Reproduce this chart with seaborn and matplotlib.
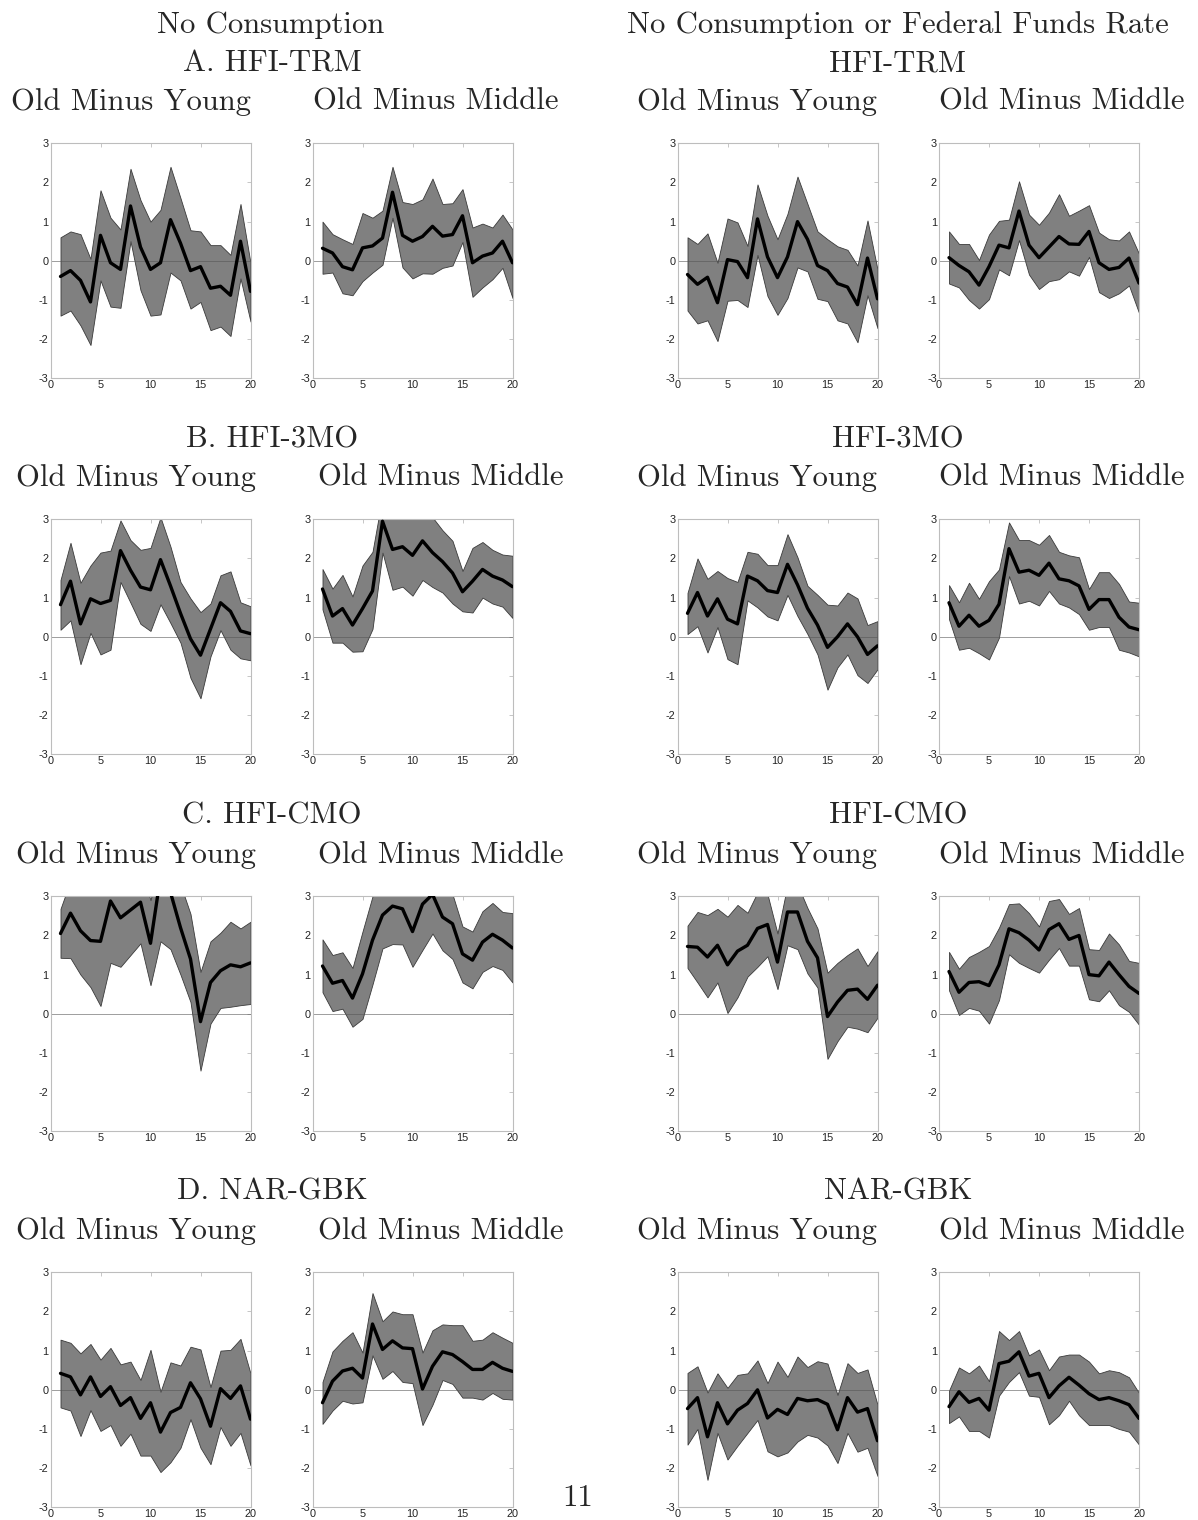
import numpy as np
import pandas as pd
import matplotlib
matplotlib.use("Agg")
import matplotlib.pyplot as plt
import seaborn as sns

# ---------------- data ----------------
horizon = list(range(1, 21))

# Row A: HFI-TRM, No Consumption
a_nc_young_mean = [-0.4, -0.25, -0.5, -1.05, 0.65, -0.05, -0.22, 1.4, 0.35, -0.22, -0.05, 1.05, 0.45, -0.25, -0.15, -0.7, -0.65, -0.88, 0.5, -0.78]
a_nc_young_hi = [0.6, 0.75, 0.68, 0.05, 1.8, 1.1, 0.8, 2.35, 1.55, 1.0, 1.3, 2.4, 1.6, 0.78, 0.75, 0.4, 0.4, 0.15, 1.45, -0.05]
a_nc_young_lo = [-1.4, -1.27, -1.65, -2.15, -0.5, -1.17, -1.2, 0.5, -0.75, -1.4, -1.37, -0.3, -0.5, -1.22, -1.05, -1.77, -1.68, -1.92, -0.45, -1.55]
a_nc_middle_mean = [0.32, 0.2, -0.15, -0.23, 0.33, 0.38, 0.58, 1.75, 0.65, 0.5, 0.62, 0.88, 0.63, 0.67, 1.15, -0.05, 0.12, 0.2, 0.5, -0.05]
a_nc_middle_hi = [1.0, 0.68, 0.55, 0.43, 1.22, 1.1, 1.28, 2.4, 1.5, 1.45, 1.57, 2.1, 1.45, 1.47, 1.83, 0.85, 0.95, 0.85, 1.18, 0.8]
a_nc_middle_lo = [-0.33, -0.3, -0.83, -0.88, -0.52, -0.3, -0.1, 1.1, -0.17, -0.45, -0.32, -0.33, -0.18, -0.12, 0.48, -0.92, -0.68, -0.47, -0.18, -0.95]
a_ff_young_mean = [-0.35, -0.6, -0.42, -1.07, 0.03, -0.02, -0.43, 1.07, 0.1, -0.43, 0.1, 1.0, 0.55, -0.12, -0.25, -0.58, -0.67, -1.12, 0.07, -0.97]
a_ff_young_hi = [0.6, 0.43, 0.7, -0.05, 1.08, 0.98, 0.38, 1.95, 1.15, 0.55, 1.2, 2.15, 1.45, 0.75, 0.55, 0.37, 0.28, -0.12, 1.03, -0.22]
a_ff_young_lo = [-1.27, -1.6, -1.52, -2.05, -1.02, -1.0, -1.18, 0.15, -0.9, -1.38, -0.95, -0.17, -0.27, -0.97, -1.03, -1.52, -1.6, -2.08, -0.88, -1.72]
a_ff_middle_mean = [0.08, -0.12, -0.28, -0.62, -0.15, 0.4, 0.33, 1.27, 0.4, 0.08, 0.35, 0.62, 0.43, 0.42, 0.75, -0.05, -0.22, -0.17, 0.07, -0.57]
a_ff_middle_hi = [0.75, 0.43, 0.43, 0.02, 0.67, 1.02, 1.05, 2.03, 1.18, 0.92, 1.23, 1.7, 1.15, 1.28, 1.42, 0.72, 0.55, 0.52, 0.75, 0.18]
a_ff_middle_lo = [-0.58, -0.68, -1.0, -1.22, -0.98, -0.22, -0.37, 0.53, -0.35, -0.72, -0.52, -0.47, -0.27, -0.38, 0.1, -0.8, -0.95, -0.83, -0.63, -1.33]

# Row B: HFI-3MO
b_nc_young_mean = [0.82, 1.42, 0.33, 0.97, 0.85, 0.93, 2.2, 1.7, 1.27, 1.2, 1.97, 1.3, 0.6, -0.05, -0.47, 0.2, 0.87, 0.65, 0.15, 0.08]
b_nc_young_hi = [1.45, 2.4, 1.38, 1.82, 2.15, 2.2, 2.97, 2.47, 2.22, 2.27, 3.05, 2.3, 1.4, 0.98, 0.63, 0.85, 1.57, 1.67, 0.88, 0.78]
b_nc_young_lo = [0.18, 0.42, -0.7, 0.1, -0.45, -0.33, 1.4, 0.87, 0.33, 0.15, 0.83, 0.35, -0.15, -1.05, -1.57, -0.5, 0.17, -0.33, -0.55, -0.6]
b_nc_middle_mean = [1.22, 0.53, 0.72, 0.3, 0.72, 1.17, 2.95, 2.23, 2.3, 2.08, 2.45, 2.15, 1.92, 1.63, 1.15, 1.42, 1.72, 1.55, 1.45, 1.28]
b_nc_middle_hi = [1.73, 1.23, 1.58, 1.03, 1.82, 2.17, 3.6, 3.4, 3.4, 3.3, 3.5, 3.05, 2.72, 2.45, 1.68, 2.27, 2.42, 2.22, 2.1, 2.07]
b_nc_middle_lo = [0.7, -0.15, -0.15, -0.38, -0.37, 0.2, 2.15, 1.2, 1.28, 1.05, 1.45, 1.27, 1.13, 0.85, 0.65, 0.62, 1.0, 0.85, 0.77, 0.48]
b_ff_young_mean = [0.6, 1.13, 0.53, 0.97, 0.45, 0.33, 1.55, 1.43, 1.18, 1.13, 1.85, 1.33, 0.73, 0.3, -0.27, 0.0, 0.33, 0.0, -0.45, -0.23]
b_ff_young_hi = [1.12, 2.0, 1.48, 1.68, 1.5, 1.4, 2.17, 2.12, 1.83, 1.83, 2.62, 2.03, 1.3, 1.07, 0.82, 0.8, 1.13, 0.98, 0.3, 0.4]
b_ff_young_lo = [0.07, 0.27, -0.4, 0.25, -0.57, -0.7, 0.93, 0.75, 0.52, 0.42, 1.07, 0.53, 0.07, -0.45, -1.35, -0.78, -0.45, -0.98, -1.18, -0.83]
b_ff_middle_mean = [0.87, 0.27, 0.55, 0.27, 0.42, 0.83, 2.25, 1.65, 1.7, 1.57, 1.88, 1.48, 1.43, 1.3, 0.7, 0.95, 0.95, 0.5, 0.25, 0.18]
b_ff_middle_hi = [1.32, 0.88, 1.38, 0.97, 1.42, 1.72, 2.92, 2.47, 2.47, 2.35, 2.6, 2.17, 2.08, 2.03, 1.22, 1.65, 1.65, 1.35, 0.9, 0.87]
b_ff_middle_lo = [0.45, -0.33, -0.28, -0.42, -0.58, -0.02, 1.55, 0.85, 0.92, 0.8, 1.17, 0.85, 0.75, 0.58, 0.18, 0.25, 0.25, -0.33, -0.4, -0.5]

# Row C: HFI-CMO
c_nc_young_mean = [2.05, 2.57, 2.12, 1.87, 1.85, 2.88, 2.45, 2.65, 2.85, 1.8, 3.5, 3.1, 2.2, 1.4, -0.2, 0.8, 1.1, 1.25, 1.2, 1.3]
c_nc_young_hi = [2.68, 3.4, 3.3, 3.5, 3.4, 3.8, 3.6, 3.7, 3.8, 2.9, 3.9, 3.8, 3.3, 2.55, 1.07, 1.85, 2.07, 2.35, 2.18, 2.35]
c_nc_young_lo = [1.43, 1.42, 1.0, 0.68, 0.2, 1.3, 1.2, 1.5, 1.8, 0.73, 1.85, 1.65, 1.0, 0.3, -1.45, -0.25, 0.15, 0.18, 0.22, 0.25]
c_nc_middle_mean = [1.22, 0.78, 0.85, 0.4, 1.02, 1.88, 2.52, 2.75, 2.68, 2.1, 2.8, 3.05, 2.47, 2.3, 1.53, 1.37, 1.83, 2.03, 1.88, 1.68]
c_nc_middle_hi = [1.9, 1.5, 1.57, 1.17, 2.1, 3.0, 3.6, 3.7, 3.6, 3.2, 3.7, 3.8, 3.6, 3.05, 2.23, 2.1, 2.62, 2.83, 2.6, 2.57]
c_nc_middle_lo = [0.55, 0.07, 0.13, -0.33, -0.13, 0.75, 1.67, 1.78, 1.77, 1.2, 1.63, 2.05, 1.62, 1.4, 0.8, 0.65, 1.07, 1.22, 1.12, 0.8]
c_ff_young_mean = [1.72, 1.7, 1.45, 1.75, 1.25, 1.6, 1.75, 2.18, 2.28, 1.32, 2.6, 2.6, 1.85, 1.43, -0.07, 0.3, 0.6, 0.63, 0.37, 0.73]
c_ff_young_hi = [2.25, 2.6, 2.52, 2.68, 2.48, 2.78, 2.58, 3.1, 3.05, 2.05, 3.3, 3.3, 2.7, 2.18, 1.05, 1.3, 1.5, 1.67, 1.22, 1.6]
c_ff_young_lo = [1.17, 0.8, 0.42, 0.8, 0.02, 0.42, 0.95, 1.2, 1.47, 0.63, 1.75, 1.65, 1.03, 0.67, -1.15, -0.7, -0.33, -0.38, -0.47, -0.1]
c_ff_middle_mean = [1.08, 0.55, 0.8, 0.82, 0.72, 1.25, 2.17, 2.07, 1.88, 1.63, 2.15, 2.3, 1.9, 2.0, 1.0, 0.97, 1.32, 1.0, 0.7, 0.52]
c_ff_middle_hi = [1.58, 1.15, 1.45, 1.58, 1.73, 2.2, 2.8, 2.82, 2.57, 2.23, 2.88, 2.93, 2.55, 2.7, 1.65, 1.63, 2.05, 1.77, 1.35, 1.3]
c_ff_middle_lo = [0.6, -0.03, 0.15, 0.08, -0.25, 0.35, 1.52, 1.3, 1.17, 1.05, 1.38, 1.68, 1.23, 1.23, 0.37, 0.32, 0.6, 0.22, 0.05, -0.28]

# Row D: NAR-GBK
d_nc_young_mean = [0.42, 0.33, -0.13, 0.33, -0.17, 0.08, -0.4, -0.2, -0.73, -0.33, -1.08, -0.58, -0.45, 0.18, -0.23, -0.93, 0.03, -0.22, 0.1, -0.75]
d_nc_young_hi = [1.28, 1.2, 0.93, 1.17, 0.77, 1.07, 0.65, 0.72, 0.25, 1.02, -0.05, 0.7, 0.62, 1.1, 1.03, 0.07, 1.0, 1.02, 1.3, 0.42]
d_nc_young_lo = [-0.45, -0.53, -1.18, -0.52, -1.05, -0.9, -1.43, -1.12, -1.68, -1.68, -2.1, -1.85, -1.48, -0.75, -1.48, -1.9, -0.95, -1.43, -1.1, -1.93]
d_nc_middle_mean = [-0.33, 0.22, 0.48, 0.55, 0.3, 1.68, 1.03, 1.25, 1.07, 1.05, 0.02, 0.6, 0.97, 0.9, 0.72, 0.52, 0.52, 0.7, 0.55, 0.47]
d_nc_middle_hi = [0.2, 0.98, 1.25, 1.47, 0.95, 2.47, 1.75, 2.0, 1.93, 1.93, 0.95, 1.52, 1.67, 1.65, 1.65, 1.25, 1.28, 1.47, 1.33, 1.2]
d_nc_middle_lo = [-0.87, -0.53, -0.28, -0.35, -0.32, 0.88, 0.28, 0.48, 0.2, 0.17, -0.9, -0.38, 0.25, 0.15, -0.2, -0.2, -0.25, -0.08, -0.23, -0.25]
d_ff_young_mean = [-0.48, -0.2, -1.2, -0.33, -0.87, -0.52, -0.35, 0.0, -0.72, -0.5, -0.63, -0.22, -0.28, -0.25, -0.37, -1.02, -0.2, -0.57, -0.48, -1.3]
d_ff_young_hi = [0.43, 0.6, -0.07, 0.42, 0.05, 0.38, 0.42, 0.75, 0.17, 0.72, 0.33, 0.85, 0.58, 0.73, 0.67, -0.13, 0.68, 0.43, 0.52, -0.38]
d_ff_young_lo = [-1.4, -1.0, -2.3, -1.1, -1.78, -1.43, -1.1, -0.77, -1.57, -1.7, -1.6, -1.32, -1.15, -1.22, -1.42, -1.87, -1.1, -1.58, -1.48, -2.2]
d_ff_middle_mean = [-0.43, -0.05, -0.32, -0.22, -0.52, 0.67, 0.73, 0.97, 0.35, 0.42, -0.2, 0.1, 0.32, 0.12, -0.1, -0.25, -0.2, -0.28, -0.38, -0.73]
d_ff_middle_hi = [-0.02, 0.57, 0.42, 0.62, 0.22, 1.5, 1.27, 1.5, 0.88, 1.03, 0.5, 0.85, 0.9, 0.9, 0.72, 0.42, 0.5, 0.45, 0.32, -0.08]
d_ff_middle_lo = [-0.85, -0.68, -1.05, -1.05, -1.22, -0.15, 0.2, 0.45, -0.15, -0.18, -0.88, -0.65, -0.28, -0.65, -0.9, -0.9, -0.9, -1.0, -1.07, -1.4]

panels = [
    [(a_nc_young_mean, a_nc_young_lo, a_nc_young_hi), (a_nc_middle_mean, a_nc_middle_lo, a_nc_middle_hi),
     (a_ff_young_mean, a_ff_young_lo, a_ff_young_hi), (a_ff_middle_mean, a_ff_middle_lo, a_ff_middle_hi)],
    [(b_nc_young_mean, b_nc_young_lo, b_nc_young_hi), (b_nc_middle_mean, b_nc_middle_lo, b_nc_middle_hi),
     (b_ff_young_mean, b_ff_young_lo, b_ff_young_hi), (b_ff_middle_mean, b_ff_middle_lo, b_ff_middle_hi)],
    [(c_nc_young_mean, c_nc_young_lo, c_nc_young_hi), (c_nc_middle_mean, c_nc_middle_lo, c_nc_middle_hi),
     (c_ff_young_mean, c_ff_young_lo, c_ff_young_hi), (c_ff_middle_mean, c_ff_middle_lo, c_ff_middle_hi)],
    [(d_nc_young_mean, d_nc_young_lo, d_nc_young_hi), (d_nc_middle_mean, d_nc_middle_lo, d_nc_middle_hi),
     (d_ff_young_mean, d_ff_young_lo, d_ff_young_hi), (d_ff_middle_mean, d_ff_middle_lo, d_ff_middle_hi)],
]

left_headers = ["A. HFI-TRM", "B. HFI-3MO", "C. HFI-CMO", "D. NAR-GBK"]
right_headers = ["HFI-TRM", "HFI-3MO", "HFI-CMO", "NAR-GBK"]
sub_titles = ["Old Minus Young", "Old Minus Middle"]
top_left_title = "No Consumption"
top_right_title = "No Consumption or Federal Funds Rate"
page_number = "11"
x_ticks = [0, 5, 10, 15, 20]
y_ticks = [-3, -2, -1, 0, 1, 2, 3]

# ---------------- style ----------------
sns.set_style("white")
plt.rcParams["axes.unicode_minus"] = False
plt.rcParams["font.family"] = ["Liberation Sans", "DejaVu Sans"]

W, H = 1198, 1520
fig = plt.figure(figsize=(W / 100, H / 100), dpi=100)
fig.patch.set_facecolor("white")

col_left = [50.5, 312.5, 677.5, 939.0]
col_w = 200.0
row_top = [143.3, 519.3, 896.3, 1272.3]
row_h = 235.0

serif = ["cmr10", "DejaVu Serif"]
title_fs = 22.1

for r in range(4):
    for c in range(4):
        mean, lo, hi = panels[r][c]
        df = pd.DataFrame({"h": horizon, "mean": mean, "lo": lo, "hi": hi})
        ax = fig.add_axes([col_left[c] / W, 1 - (row_top[r] + row_h) / H, col_w / W, row_h / H])
        ax.fill_between(df["h"], df["lo"], df["hi"], facecolor="#808080",
                        edgecolor="#3a3a3a", linewidth=0.6, zorder=1)
        ax.axhline(0, color="#555555", linewidth=0.5, alpha=0.8, zorder=2)
        sns.lineplot(data=df, x="h", y="mean", ax=ax, color="black",
                     linewidth=2.4, zorder=3, legend=False)
        ax.set_xlim(0, 20)
        ax.set_ylim(-3, 3)
        ax.set_xticks(x_ticks)
        ax.set_yticks(y_ticks)
        ax.set_xlabel("")
        ax.set_ylabel("")
        for s in ax.spines.values():
            s.set_color("#bdbdbd")
            s.set_linewidth(0.8)
        ax.tick_params(axis="both", direction="in", length=3, width=0.6,
                       color="#bdbdbd", labelsize=7.8, labelcolor="#222222",
                       top=True, right=True, pad=1.5)
        ax.tick_params(axis="x", pad=1)

# ---------------- text ----------------
def ftext(x, y, s):
    fig.text(x / W, 1 - y / H, s, ha="center", va="baseline",
             fontsize=title_fs, family=serif)

ftext(271, 33, top_left_title)
ftext(898, 33, top_right_title)

header_base = [71, 447, 824, 1200]
sub_base = [110, 486, 863, 1239]
left_sub_x = [[131, 436], [136, 441], [136, 441], [136, 441]]
right_sub_x = [757, 1062]
for r in range(4):
    ftext(272, header_base[r], left_headers[r])
    ftext(898, header_base[r], right_headers[r])
    ftext(left_sub_x[r][0], sub_base[r], sub_titles[0])
    ftext(left_sub_x[r][1], sub_base[r], sub_titles[1])
    ftext(right_sub_x[0], sub_base[r], sub_titles[0])
    ftext(right_sub_x[1], sub_base[r], sub_titles[1])

ftext(578, 1506, page_number)

fig.savefig("out.png", dpi=100, facecolor="white")
